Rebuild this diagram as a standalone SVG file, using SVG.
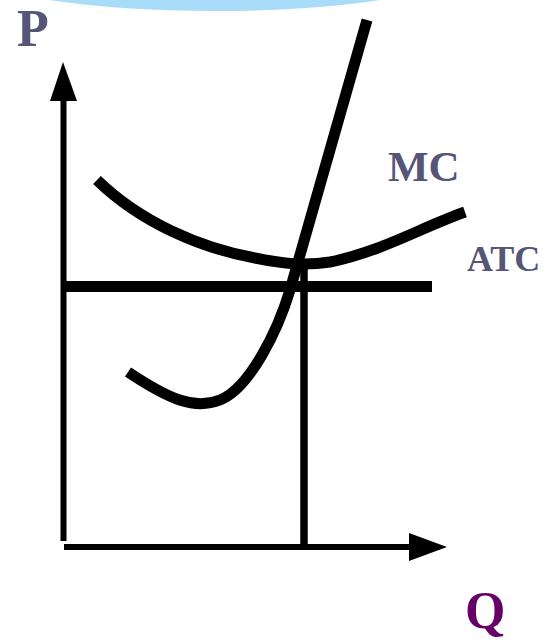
<svg xmlns="http://www.w3.org/2000/svg" width="547" height="640" viewBox="0 0 547 640">
<style>
.lbl{font-family:"Liberation Serif","Times New Roman",serif;font-weight:bold;fill:#555577}
.curve{fill:none;stroke:#000;stroke-width:11}
.axis{stroke:#000;stroke-width:6;fill:none}
</style>
<rect width="547" height="640" fill="#fff"/>
<ellipse id="banner" cx="215" cy="-29" rx="240" ry="40" fill="#a8dcf9"/>
<g id="axes">
<line class="axis" x1="63.5" y1="98" x2="63.5" y2="541"/>
<polygon points="63,62 50,101 77,101" fill="#000"/>
<line class="axis" x1="64" y1="547" x2="412" y2="547"/>
<polygon points="447,547 409,533 409,561" fill="#000"/>
</g>
<g id="connectors">
<line x1="63" y1="286.5" x2="432" y2="286.5" stroke="#000" stroke-width="11"/>
<line x1="304" y1="268" x2="304" y2="545" stroke="#000" stroke-width="7.5"/>
</g>
<g id="ATC">
<path class="curve" d="M97,180 C140,222 200,248 255,258 C285,264 305,266 330,262 C380,252 420,228 465,212"/>
<text class="lbl" x="467" y="271" font-size="36">ATC</text>
</g>
<g id="MC">
<path class="curve" d="M128,372 C170,400 195,410 220,400 C250,388 278,330 290,290 L367,20"/>
<text class="lbl" x="388" y="181" font-size="43">MC</text>
</g>
<g id="P">
<text class="lbl" x="17" y="46" font-size="52">P</text>
</g>
<g id="Q">
<text class="lbl" x="465" y="628" font-size="52" style="fill:#660066">Q</text>
</g>
</svg>
